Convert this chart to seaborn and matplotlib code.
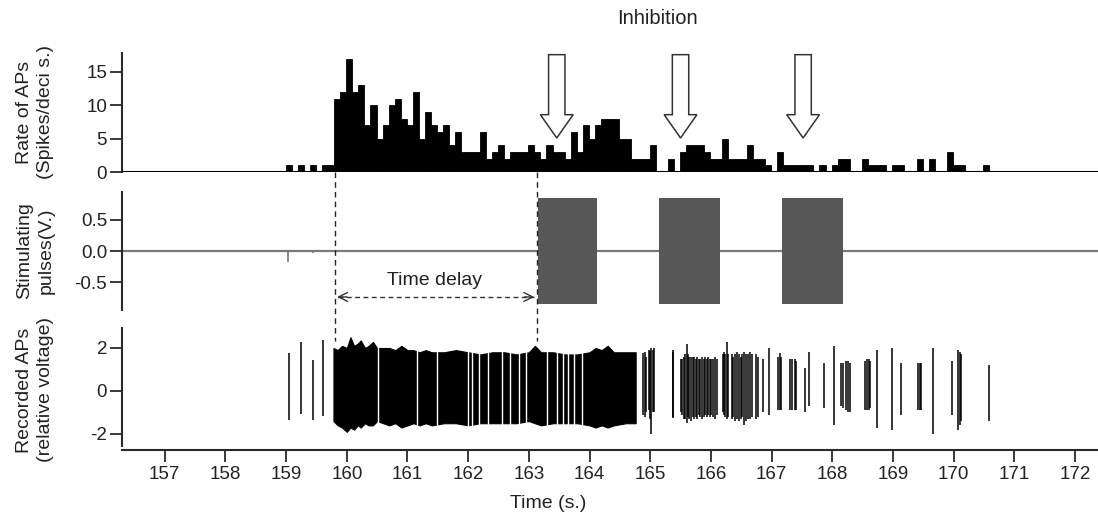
import numpy as np
import pandas as pd
import matplotlib
matplotlib.use("Agg")
import matplotlib.pyplot as plt
import matplotlib.transforms as mtransforms
from matplotlib.lines import Line2D
from matplotlib.patches import FancyArrow
import seaborn as sns

# ---------------- data ----------------
# firing rate histogram (spikes per 0.1 s bin), bins start at 159.0 s
rate_start = 159.0
rate_binw = 0.1
rates = [1, 0, 1, 0, 1, 0, 1, 1,
         11, 12, 17, 12, 13, 7, 10, 5, 7, 10, 11, 8,
         7, 12, 5, 9, 7, 6, 7, 4, 6, 3,
         3, 3, 6, 2, 3, 4, 2, 3, 3, 3,
         4, 3, 2, 4, 3, 3, 2, 6, 3, 7,
         5, 7, 8, 8, 8, 5, 5, 2, 2, 2,
         4, 0, 0, 2, 0, 3, 4, 4, 4, 3,
         2, 2, 5, 2, 2, 2, 4, 2, 2, 1,
         0, 3, 1, 1, 1, 1, 1, 0, 1, 0,
         1, 2, 2, 0, 0, 2, 1, 1, 1, 0,
         1, 1, 0, 0, 2, 0, 2, 0, 0, 3,
         1, 1, 0, 0, 0, 1]

# inhibition arrows (time of arrow)
inhib_t = [163.46, 165.50, 167.52]

# stimulating pulse trains
pulse_on = [163.15, 165.15, 167.18]
pulse_off = [164.13, 166.15, 168.17]
pulse_amp = [0.85, 0.85, 0.85]
artifact_t = [159.03, 159.45]
artifact_lo = [-0.17, -0.04]

# dense burst of recorded APs: envelope
burst_t = [159.78, 159.85, 159.92, 160.0, 160.06, 160.12, 160.18, 160.23, 160.3, 160.36,
           160.43, 160.5, 160.6, 160.7, 160.8, 160.9, 161.0, 161.1, 161.2, 161.3,
           161.4, 161.6, 161.8, 162.0, 162.2, 162.4, 162.6, 162.8, 163.0, 163.1,
           163.2, 163.4, 163.6, 163.8, 164.0, 164.1, 164.2, 164.3, 164.4, 164.6, 164.76]
burst_hi = [2.0, 1.9, 2.1, 2.0, 2.5, 2.1, 2.2, 2.35, 2.0, 2.1,
            2.28, 2.0, 2.0, 2.0, 1.9, 2.1, 1.9, 1.9, 1.8, 1.9,
            1.8, 1.8, 1.9, 1.8, 1.7, 1.8, 1.8, 1.7, 1.8, 2.1,
            1.8, 1.8, 1.7, 1.7, 1.8, 2.0, 1.9, 2.1, 1.8, 1.8, 1.8]
burst_lo = [-1.4, -1.6, -1.7, -1.9, -1.7, -1.8, -1.6, -1.7, -1.5, -1.6,
            -1.6, -1.4, -1.5, -1.6, -1.5, -1.7, -1.6, -1.5, -1.6, -1.5,
            -1.6, -1.5, -1.5, -1.6, -1.5, -1.5, -1.5, -1.5, -1.4, -1.5,
            -1.6, -1.5, -1.5, -1.5, -1.6, -1.7, -1.6, -1.7, -1.6, -1.5, -1.5]
burst_gaps = [160.51, 161.16, 161.48, 161.99, 162.07, 162.18, 162.33, 162.55,
              162.69, 162.84, 162.95, 163.30, 163.46, 163.56, 163.65, 163.74, 163.88]

# isolated APs: time, top, bottom
spike_t = [159.04, 159.24, 159.45, 159.60,
           164.88, 164.91, 164.93, 164.98, 165.00, 165.02, 165.05, 165.07,
           165.37, 165.38,
           165.50, 165.52, 165.55, 165.57, 165.60, 165.62, 165.64, 165.67, 165.70, 165.72,
           165.75, 165.77, 165.80, 165.82, 165.85, 165.88, 165.90, 165.93, 165.96, 165.98,
           166.01, 166.04, 166.07, 166.10,
           166.20, 166.22, 166.24, 166.27, 166.29,
           166.34, 166.37, 166.40, 166.43, 166.46, 166.49, 166.52, 166.55, 166.58, 166.61,
           166.64, 166.67, 166.75, 166.78, 166.86, 166.96,
           167.11, 167.14, 167.16, 167.30, 167.34, 167.38, 167.41,
           167.55, 167.62, 167.87, 168.03,
           168.15, 168.18, 168.22, 168.26, 168.29,
           168.54, 168.57, 168.60, 168.63, 168.73, 168.98, 169.14,
           169.42, 169.44, 169.47, 169.66, 169.97,
           170.08, 170.10, 170.12, 170.59]
spike_top = [1.78, 2.28, 1.43, 2.35,
             1.75, 1.8, 1.6, 1.9, 1.85, 2.0, 1.9, 2.0,
             1.9, 1.8,
             1.5, 1.5, 1.6, 1.7, 2.2, 1.7, 1.6, 1.6, 1.6, 1.6,
             1.5, 1.6, 1.5, 1.5, 1.6, 1.5, 1.6, 1.5, 1.6, 1.5,
             1.5, 1.5, 1.6, 1.5,
             1.7, 1.8, 1.7, 2.3, 1.7,
             1.7, 1.6, 1.7, 1.8, 1.7, 1.6, 1.7, 1.8, 1.7, 1.7,
             1.8, 1.7, 1.7, 1.6, 1.5, 2.0,
             1.6, 1.75, 1.6, 1.5, 1.5, 1.5, 1.4,
             1.05, 1.8, 1.3, 2.1,
             1.3, 1.3, 1.4, 1.4, 1.3,
             1.4, 1.5, 1.5, 1.4, 1.9, 2.0, 1.3,
             1.3, 1.3, 1.3, 2.0, 1.4,
             1.9, 1.8, 1.7, 1.2]
spike_bot = [-1.34, -1.06, -1.34, -1.15,
             -1.1, -1.2, -1.0, -0.9, -1.3, -2.0, -1.0, -1.0,
             -1.27, -1.2,
             -1.0, -1.1, -1.3, -1.3, -1.5, -1.2, -1.3, -1.4, -1.2, -1.3,
             -1.2, -1.3, -1.1, -1.2, -1.3, -1.2, -1.1, -1.2, -1.1, -1.2,
             -1.1, -1.2, -1.3, -1.1,
             -1.0, -1.1, -1.2, -1.3, -1.2,
             -1.3, -1.2, -1.4, -1.3, -1.4, -1.3, -1.2, -1.6, -1.4, -1.3,
             -1.3, -1.2, -1.3, -1.2, -1.0, -1.1,
             -0.9, -0.9, -0.9, -0.9, -0.9, -0.9, -0.9,
             -1.0, -0.7, -0.8, -1.6,
             -0.7, -0.8, -0.9, -1.0, -1.0,
             -0.9, -0.9, -0.9, -0.8, -1.7, -1.8, -1.1,
             -0.9, -0.9, -0.9, -2.0, -1.1,
             -1.8, -1.6, -1.4, -1.4]

xticks = list(range(157, 173))
delay_start, delay_end = 159.80, 163.13

# ---------------- style ----------------
sns.set_style("white")
plt.rcParams["font.family"] = ["Liberation Sans", "DejaVu Sans"]
plt.rcParams["font.size"] = 13
plt.rcParams["axes.unicode_minus"] = False
AX = "#2a2a2a"
TXT = "#222222"

W, H = 1098, 521
fig = plt.figure(figsize=(W / 100, H / 100), dpi=100)
left = 121.7 / W
width = 1 - left


def make_ax(top_px, bot_px):
    return fig.add_axes([left, 1 - bot_px / H, width, (bot_px - top_px) / H])


ax1 = make_ax(53, 172)
ax2 = make_ax(192, 310)
ax3 = make_ax(328, 446)
xlim = (156.29, 172.38)

for ax in (ax1, ax2, ax3):
    ax.set_xlim(*xlim)
    ax.patch.set_alpha(0)
    for s in ("top", "right"):
        ax.spines[s].set_visible(False)
    ax.spines["left"].set_color(AX)
    ax.spines["left"].set_linewidth(1.5)
    ax.tick_params(axis="y", direction="out", length=8.5, width=1.3, color=AX,
                   labelsize=13.5, labelcolor=TXT, pad=2, left=True)

# ---- top: rate histogram ----
edges = [round(rate_start + rate_binw * k, 3) - 0.01 for k in range(len(rates) + 1)]
centers = [(a + b) / 2 for a, b in zip(edges[:-1], edges[1:])]
df_rate = pd.DataFrame({"t": centers, "rate": rates})
sns.histplot(data=df_rate, x="t", weights="rate", bins=edges, ax=ax1,
             color="black", alpha=1, edgecolor="black", linewidth=0.6,
             element="bars")
ax1.axhline(0, color="black", lw=1.5, zorder=3)
ax1.set_ylim(0, 17.85)
ax1.set_yticks([0, 5, 10, 15])
ax1.spines["bottom"].set_visible(False)
ax1.set_xticks([])
ax1.set_xlabel("")
ax1.set_ylabel("")
ax1.set_xlim(*xlim)

for t in inhib_t:
    arr = FancyArrow(t, 17.6, 0, 5.1 - 17.6,
                     width=0.27, head_width=0.54, head_length=3.5,
                     length_includes_head=True, facecolor="white",
                     edgecolor="#333", lw=1.1, zorder=5, clip_on=False)
    ax1.add_patch(arr)

fig.text(657 / W, 1 - 19 / H, "Inhibition", ha="center", va="center",
         fontsize=14.5, color=TXT)

# ---- middle: stimulating pulses ----
ax2.axhline(0, color="#7a7a7a", lw=1.6, zorder=1)
for on, off, a in zip(pulse_on, pulse_off, pulse_amp):
    ax2.fill_between([on, off], [-a, -a], [a, a], color="#585858", lw=0, zorder=2)
ax2.vlines(artifact_t, artifact_lo, 0, color="#777", lw=1.2)
ax2.set_ylim(-0.95, 0.95)
ax2.set_yticks([0.5, 0.0, -0.5])
ax2.set_yticklabels(["0.5", "0.0", "-0.5"])
ax2.spines["bottom"].set_visible(False)
ax2.set_xticks([])

ymid = -0.74
ax2.plot([delay_start + 0.05, delay_end - 0.05], [ymid, ymid], ls=(0, (3.5, 2.5)),
         color="#333", lw=1.0)
for xa, xb in ((delay_start + 0.2, delay_start + 0.04), (delay_end - 0.2, delay_end - 0.04)):
    ax2.annotate("", xy=(xb, ymid), xytext=(xa, ymid),
                 arrowprops=dict(arrowstyle="->", color="#333", lw=1.0,
                                 mutation_scale=16, shrinkA=0, shrinkB=0))
ax2.text((delay_start + delay_end) / 2 - 0.02, -0.47, "Time delay", ha="center",
         va="center", fontsize=14, color=TXT)

# ---- bottom: recorded APs ----
ax3.fill_between(burst_t, burst_lo, burst_hi, color="black", lw=0.8, edgecolor="black")
ax3.vlines(burst_gaps, -2.0, 2.6, color="white", lw=1.0, zorder=3)
ax3.vlines(spike_t, spike_bot, spike_top, color="black", lw=1.1, zorder=4)
ax3.set_ylim(-2.56, 2.93)
ax3.set_yticks([2, 0, -2])
ax3.spines["bottom"].set_position(("outward", 3))
ax3.spines["bottom"].set_color(AX)
ax3.spines["bottom"].set_linewidth(1.5)
ax3.set_xticks(xticks)
ax3.tick_params(axis="x", direction="out", length=8.5, width=1.3, color=AX,
                labelsize=13.5, labelcolor=TXT, pad=3, bottom=True)

# labels
ylab_kw = dict(rotation=90, ha="center", va="center", fontsize=14, color=TXT,
               linespacing=1.35)
fig.text(35 / W, 1 - 112 / H, "Rate of APs\n(Spikes/deci s.)", **ylab_kw)
fig.text(35 / W, 1 - 251 / H, "Stimulating\npulses(V.)", **ylab_kw)
fig.text(35 / W, 1 - 390 / H, "Recorded APs\n(relative voltage)", **ylab_kw)
fig.text(548 / W, 1 - 503 / H, "Time (s.)", ha="center", va="center",
         fontsize=14, color=TXT)

# dashed guide lines spanning panels
trans = mtransforms.blended_transform_factory(ax3.transData, fig.transFigure)
for xv in (delay_start, delay_end):
    fig.add_artist(Line2D([xv, xv], [1 - 172 / H, 1 - 341 / H], transform=trans,
                          color="#222", lw=1.0, ls=(0, (4, 3))))

fig.savefig("out.png", dpi=100)
